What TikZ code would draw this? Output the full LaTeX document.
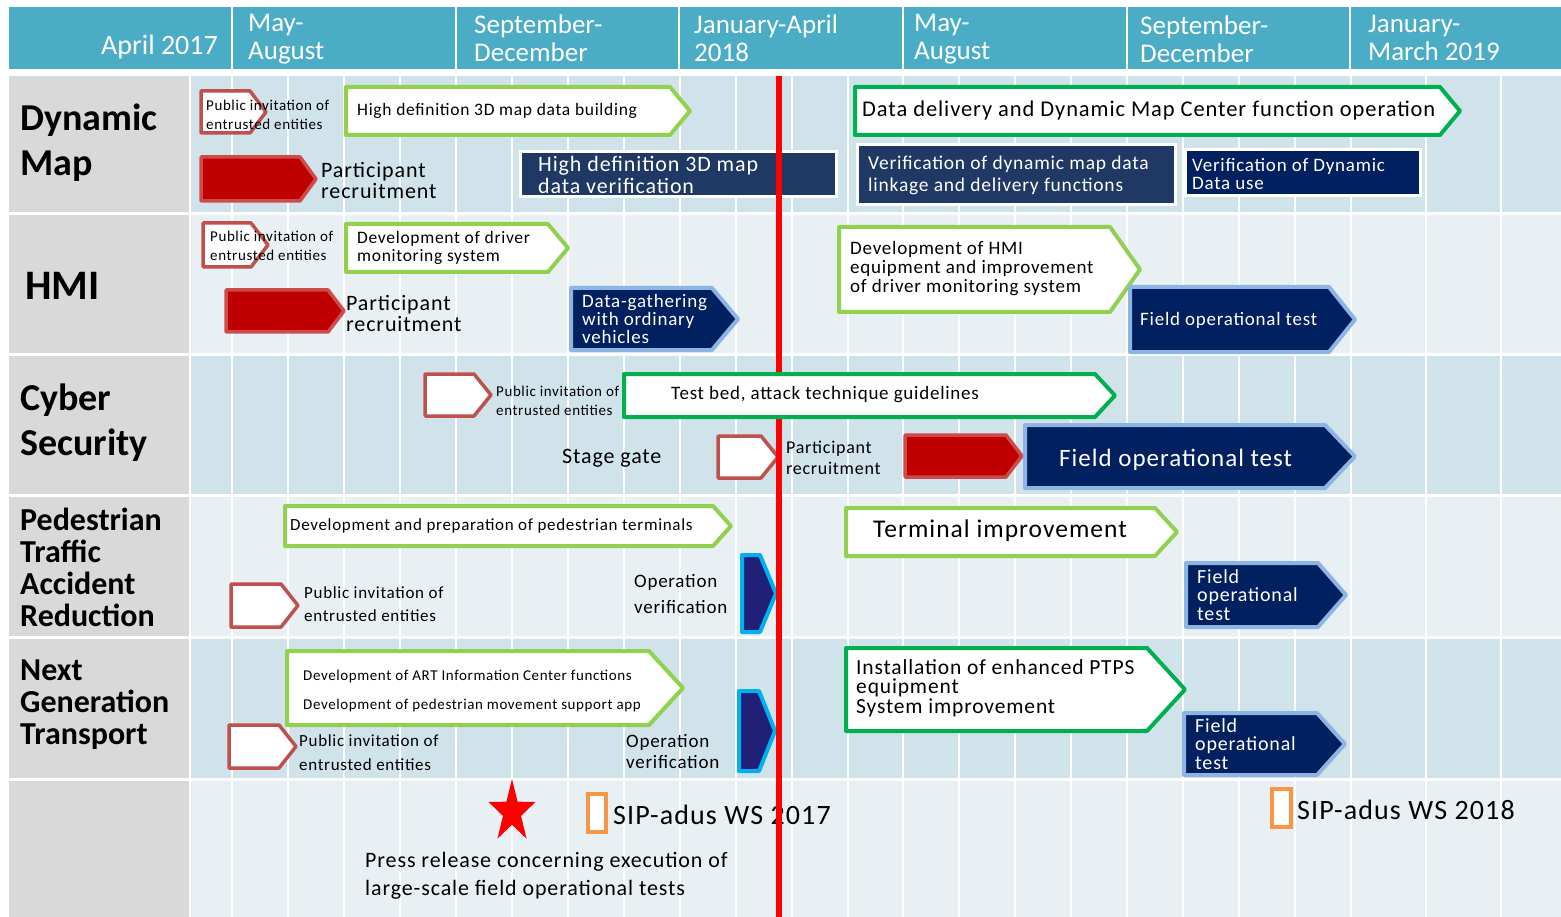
\documentclass[tikz,border=0pt]{standalone}
\usepackage{fontspec}
\setmainfont{Carlito}[LetterSpace=4]
\newfontfamily\plainfont{Carlito}
\usetikzlibrary{shapes.geometric}

\definecolor{hdrblue}{RGB}{75,172,198}
\definecolor{rowdark}{RGB}{208,227,234}
\definecolor{rowlight}{RGB}{232,240,244}
\definecolor{lblgrey}{RGB}{217,217,217}
\definecolor{pubred}{RGB}{192,80,77}
\definecolor{recrred}{RGB}{192,0,0}
\definecolor{recrline}{RGB}{205,75,75}
\definecolor{lgreen}{RGB}{146,208,80}
\definecolor{dgreen}{RGB}{0,176,80}
\definecolor{navy}{RGB}{0,32,96}
\definecolor{navybox}{RGB}{31,56,100}
\definecolor{lblue}{RGB}{142,180,227}
\definecolor{cyanb}{RGB}{0,176,240}
\definecolor{indigo}{RGB}{32,32,120}
\definecolor{wsorange}{RGB}{247,150,70}

\newcommand{\fsz}[2]{\fontsize{#1}{#2}\selectfont}
% tag box: style, x1, y1, tip x, y2, notch
\newcommand{\tagbox}[6]{\draw[#1] (#2,#3) -- ({#4-#6},#3) -- (#4,{(#3+#5)/2}) -- ({#4-#6},#5) -- (#2,#5) -- cycle;}

\begin{document}
\begin{tikzpicture}[x=1pt, y=-1pt,
                  t/.style={anchor=west, inner sep=0, align=left},
                  tw/.style={t, text=white},
                  hd/.style={t, text=white, font=\plainfont\fsz{27}{28}},
                  lbl/.style={t, font=\plainfont\bfseries\fsz{38}{45}},
                  pub/.style={draw=pubred, line width=3.5, fill=white, line join=round},
                  recr/.style={draw=recrline, line width=3.5, fill=recrred, line join=round},
                  dev/.style={draw=lgreen, line width=4, fill=white, line join=round},
                  devd/.style={draw=dgreen, line width=4, fill=white, line join=round},
                  fot/.style={draw=lblue, line width=4, fill=navy, line join=round},
                  opv/.style={draw=cyanb, line width=4, fill=indigo, line join=round},
                  vbox/.style={draw=white, line width=3, fill=navybox},
                  ws/.style={draw=wsorange, line width=3.5, fill=white}]

    \useasboundingbox (0,0) rectangle (1561,917); % same size as the slide image
    \fill[white] (0,0) rectangle (1561,917);

    % header
    \fill[hdrblue] (9,7) rectangle (1561,69);
    \foreach \x in {232,456,679,903,1127,1350}
        \draw[white, line width=2] (\x,7) -- (\x,69);
    \node[hd, anchor=east, font=\plainfont\fsz{28}{28}] (hApr) at (218,47) {April 2017};
    \node[hd] (hMay) at (248,39) {May-\\August};
    \node[hd] (hSep) at (474,38) {September-\\December};
    \node[hd] (hJan) at (694,38) {January-April\\2018};
    \node[hd] (hMay2) at (914,39) {May-\\August};
    \node[hd] (hSep2) at (1140,39) {September-\\December};
    \node[hd] (hJan2) at (1368,38) {January-\\March 2019};

    % rows
    \foreach \ya/\yb/\c in {76/212/rowdark, 215/353/rowlight, 356/494/rowdark,
                            497/636/rowlight, 639/778/rowdark, 781/917/rowlight} {
        \fill[lblgrey] (9,\ya) rectangle (189,\yb);
        \fill[\c] (191,\ya) rectangle (1561,\yb);
        \foreach \x in {232,288,344,400,456,512,568,624,680,736,792,848,903,959,1015,1071,1127,1183,1239,1295,1351,1426,1501}
            \draw[white, line width=1.5] (\x,\ya) -- (\x,\yb);
    }
    \node[lbl] (lDM) at (20,143) {Dynamic\\Map};
    \node[lbl, font=\plainfont\bfseries\fsz{42}{45}] (lHMI) at (25,286) {HMI};
    \node[lbl] (lCS) at (20,423) {Cyber\\Security};
    \node[lbl, font=\plainfont\bfseries\fsz{32}{32}] (lPed) at (20,567) {Pedestrian\\Traffic\\Accident\\Reduction};
    \node[lbl, font=\plainfont\bfseries\fsz{32}{32}] (lNGT) at (20,705) {Next\\Generation\\Transport};

    % Dynamic Map
    \tagbox{pub}{201}{91}{266}{133}{16}
    \node[t, font=\fsz{15}{19}] (pubDM) at (206,115) {Public invitation of\\entrusted entities};
    \tagbox{dev}{346}{87}{690}{135}{20}
    \node[t, font=\fsz{17.5}{20}] (buildDM) at (357,111) {High definition 3D map data building};
    \tagbox{recr}{201}{157}{316}{201}{16}
    \node[t, font=\fsz{22}{21}] (recDM) at (321,180) {Participant\\recruitment};
    \draw[vbox] (520,152) rectangle (836,197);
    \node[tw, font=\fsz{22}{22}] (verDM) at (538,175) {High definition 3D map\\data verification};
    \tagbox{devd}{855}{87}{1460}{135}{20}
    \node[t, font=\fsz{22.5}{22}] (opDM) at (862,111) {Data delivery and Dynamic Map Center function operation};
    \draw[vbox] (857,145) rectangle (1175,205);
    \node[tw, font=\fsz{19.5}{22}] (linkDM) at (868,175) {Verification of dynamic map data\\linkage and delivery functions};
    \draw[vbox, fill=navy] (1185,150) rectangle (1420,196);
    \node[tw, font=\fsz{19}{18}] (useDM) at (1192,174) {Verification of Dynamic\\Data use};

    % HMI
    \tagbox{pub}{203}{223}{268}{267}{17}
    \node[t, font=\fsz{15}{19}] (pubHMI) at (210,246) {Public invitation of\\entrusted entities};
    \tagbox{dev}{346}{224}{568}{272}{20}
    \node[t, font=\fsz{17.5}{18}] (dmsHMI) at (357,248) {Development of driver\\monitoring system};
    \tagbox{recr}{226}{290}{344}{332}{16}
    \node[t, font=\fsz{22}{21}] (recHMI) at (346,313) {Participant\\recruitment};
    \tagbox{fot}{571}{288}{738}{350}{26}
    \node[tw, font=\fsz{19}{18}] (dataHMI) at (582,319) {Data-gathering\\with ordinary\\vehicles};
    \tagbox{dev}{839}{227}{1140}{312}{30}
    \node[t, font=\fsz{19}{19}] (devHMI) at (850,269) {Development of HMI\\equipment and improvement\\of driver monitoring system};
    \tagbox{fot}{1130}{287}{1355}{352}{26}
    \node[tw, font=\fsz{19}{20}] (fotHMI) at (1140,320) {Field operational test};

    % Cyber Security
    \tagbox{pub}{425}{374}{491}{416}{17}
    \node[t, font=\fsz{15}{19}] (pubCS) at (496,401) {Public invitation of\\entrusted entities};
    \node[t, font=\fsz{22}{22}] (gateCS) at (562,458) {Stage gate};
    \tagbox{pub}{718}{436}{778}{478}{17}
    \node[t, font=\fsz{18}{21}] (recCS) at (786,458) {Participant\\recruitment};
    \tagbox{recr}{905}{435}{1022}{477}{16}
    \tagbox{fot}{1025}{425}{1355}{488}{30}
    \node[tw, font=\fsz{25}{26}] (fotCS) at (1059,460) {Field operational test};

    % Pedestrian Traffic Accident Reduction
    \tagbox{dev}{285}{506}{731}{546}{18}
    \node[t, font=\fsz{17}{18}] (devPed) at (290,526) {Development and preparation of pedestrian terminals};
    \tagbox{dev}{846}{508}{1177}{556}{22}
    \node[t, font=\fsz{25.5}{26}] (termPed) at (873,531) {Terminal improvement};
    \tagbox{pub}{231}{584}{298}{627}{17}
    \node[t, font=\fsz{17}{23}] (pubPed) at (304,604) {Public invitation of\\entrusted entities};
    \node[t, font=\fsz{19}{26}] (opvPedTxt) at (634,594) {Operation\\verification};
    \tagbox{opv}{742}{555}{776}{632}{16}
    \tagbox{fot}{1186}{563}{1346}{627}{28}
    \node[tw, font=\fsz{20}{18.5}] (fotPed) at (1197,595) {Field\\operational\\test};

    % Next Generation Transport
    \tagbox{dev}{287}{651}{683}{725}{34}
    \node[t, font=\fsz{15}{29}] (artNGT) at (303,691) {Development of ART Information Center functions\\Development of pedestrian movement support app};
    \tagbox{pub}{229}{725}{296}{768}{17}
    \node[t, font=\fsz{17}{24}] (pubNGT) at (299,753) {Public invitation of\\entrusted entities};
    \node[t, font=\fsz{19}{21}] (opvNGTTxt) at (626,751) {Operation\\verification};
    \tagbox{opv}{739}{691}{775}{771}{16}
    \tagbox{devd}{846}{648}{1185}{731}{38}
    \node[t, font=\fsz{21.5}{19.5}] (ptpsNGT) at (856,688) {Installation of enhanced PTPS\\equipment\\System improvement};
    \tagbox{fot}{1184}{713}{1345}{775}{28}
    \node[tw, font=\fsz{20}{18.5}] (fotNGT) at (1195,744) {Field\\operational\\test};

    % events
    \begin{scope}[shift={(512,812)}, xscale=0.75]
        \node[star, star points=5, star point ratio=2.6, fill=red, minimum size=66, inner sep=0, transform shape] (pressStar) at (0,0) {};
    \end{scope}
    \node[t, font=\fsz{22}{28}] (pressTxt) at (365,876) {Press release concerning execution of\\large-scale field operational tests};
    \draw[ws] (588,794) rectangle (606,832);
    \node[t, font=\fsz{28}{28}] (ws17) at (613,815) {SIP-adus WS 2017};
    \draw[ws] (1272,789) rectangle (1291,827);
    \node[t, font=\fsz{28}{28}] (ws18) at (1297,810) {SIP-adus WS 2018};

    % today line
    \draw[red, line width=6] (779,76) -- (779,917);

    \tagbox{devd}{624}{374}{1115}{417}{20}
    \node[t, font=\fsz{19}{20}] (bedCS) at (671,395) {Test bed, attack technique guidelines};

\end{tikzpicture}
\end{document}
